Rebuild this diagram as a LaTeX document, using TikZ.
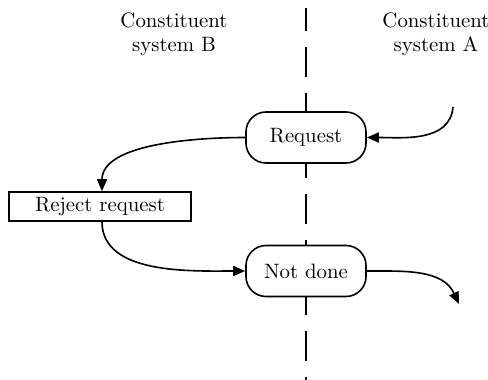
\documentclass[tikz,border=0pt]{standalone}
\usetikzlibrary{arrows.meta}
\begin{document}
\begin{tikzpicture}[x=0.5pt,y=-0.5pt,
  every node/.style={font=\fontsize{10.4}{12}\selectfont, inner sep=0pt},
  roundbox/.style={draw, line width=0.8pt, rounded corners=10pt, minimum width=60pt, minimum height=25.5pt},
  rectbox/.style={draw, line width=0.8pt, minimum width=91pt, minimum height=14.5pt},
  flow/.style={line width=0.8pt, -{Triangle[length=6pt,width=5pt]}},
  divider/.style={line width=0.8pt, dash pattern=on 15pt off 8pt}]
\useasboundingbox (0,0) rectangle (488,380);
\node[align=center] (labB) at (174,34) {Constituent\\system B};
\node[align=center] (labA) at (436,34) {Constituent\\system A};
\node[roundbox] (req) at (306,137.5) {Request};
\node[roundbox] (nd) at (306,271) {Not done};
\node[rectbox] (rej) at (100,206.5) {Reject request};
\coordinate (top) at (306,8);
\coordinate (bot) at (306,380);
\coordinate (ain) at (453,107);
\coordinate (aout) at (459,304);
\draw[divider, dash phase=3.5pt] (top) -- (req.north);
\draw[divider, dash phase=8pt] (req.south) -- (nd.north);
\draw[divider, dash phase=6pt] (nd.south) -- (bot);
\draw[flow] (ain) to[out=-95,in=0] (req.east);
\draw[flow] (req.west) to[out=180,in=90,looseness=0.8] ([xshift=1pt]rej.north);
\draw[flow] ([xshift=1pt]rej.south) to[out=-90,in=180,looseness=0.9] (nd.west);
\draw[flow] (nd.east) to[out=0,in=115] (aout);
\end{tikzpicture}
\end{document}
